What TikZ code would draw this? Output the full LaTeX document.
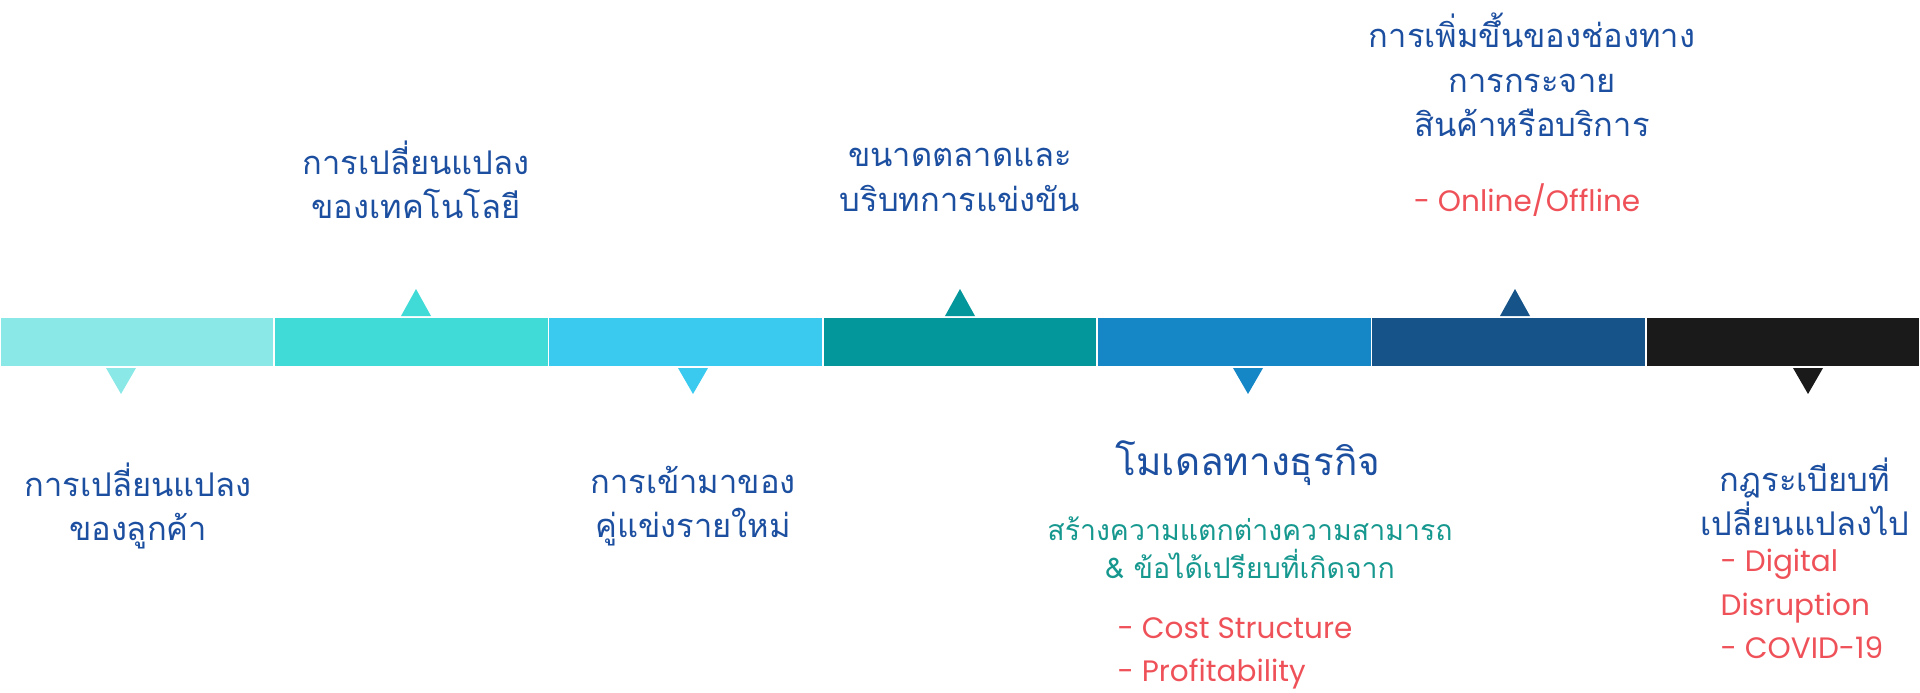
\documentclass[tikz,border=0pt]{standalone}
\usepackage{fontspec}
\usepackage{xcolor}
\usepackage{tikz}
\newfontfamily\thaifont[Script=Thai]{Loma}
\newfontfamily\latinfont{Poppins}
\definecolor{segA}{HTML}{8AE9E7}
\definecolor{segB}{HTML}{40DAD7}
\definecolor{segC}{HTML}{3AC9EF}
\definecolor{segD}{HTML}{03979B}
\definecolor{segE}{HTML}{1587C7}
\definecolor{segF}{HTML}{155389}
\definecolor{segG}{HTML}{1A1A1A}
\definecolor{titleblue}{HTML}{1D4FA0}
\definecolor{subteal}{HTML}{16988F}
\definecolor{notered}{HTML}{EF5159}

\begin{document}
\begin{tikzpicture}[bar piece/.style={rectangle, minimum width=2.742857cm, minimum height=0.5cm, inner sep=0pt, draw=white, line width=0.5pt},
	head/.style={font=\thaifont\fontsize{9.3}{12.6}\selectfont, text=titleblue, align=center, inner sep=0pt},
	sub/.style={font=\thaifont\fontsize{8.1}{10.8}\selectfont, text=subteal, align=center, inner sep=0pt},
	note/.style={font=\latinfont\fontsize{8.4}{12.3}\selectfont, text=notered, align=left, inner sep=0pt}]
	\useasboundingbox (0,0) rectangle (19.2,6.92);
	
	% Bar
	\foreach \c [count=\i] in {segA,segB,segC,segD,segE,segF,segG}
	\node[bar piece, fill=\c] (b\i) at ({(\i-0.5)*2.742857},3.5) {};
	
	% Pointers
	\foreach \x/\c in {4.16/segB, 9.60/segD, 15.15/segF}
	\fill[\c] (\x-0.15,3.76) -- (\x+0.15,3.76) -- (\x,4.03) -- cycle;
	\foreach \x/\c in {1.21/segA, 6.93/segC, 12.48/segE, 18.08/segG}
	\fill[\c] (\x-0.15,3.24) -- (\x+0.15,3.24) -- (\x,2.98) -- cycle;
	
	% Nodes
	\node[head] (h1) at (1.38,1.86) {การเปลี่ยนแปลง\\ของลูกค้า};
	\node[head] (h2) at (4.16,5.12) {การเปลี่ยนแปลง\\ของเทคโนโลยี};
	\node[head] (h3) at (6.93,1.86) {การเข้ามาของ\\คู่แข่งรายใหม่};
	\node[head] (h4) at (9.60,5.12) {ขนาดตลาดและ\\บริบทการแข่งขัน};
	\node[head, font=\thaifont\fontsize{11}{13}\selectfont] (h5) at (12.48,2.29) {โมเดลทางธุรกิจ};
	\node[sub] (t5) at (12.50,1.44) {สร้างความแตกต่างความสามารถ\\\& ข้อได้เปรียบที่เกิดจาก};
	\node[note, anchor=west] (n5) at (11.17,0.39) {- Cost Structure\\- Profitability};
	\node[head] (h6) at (15.32,6.17) {การเพิ่มขึ้นของช่องทาง\\การกระจาย\\สินค้าหรือบริการ};
	\node[note] (n6) at (15.27,4.92) {- Online/Offline};
	\node[head] (h7) at (18.05,1.95) {กฎระเบียบที่\\เปลี่ยนแปลงไป};
	\node[note, anchor=west] (n7) at (17.20,0.88) {- Digital\\Disruption\\- COVID-19};
	
\end{tikzpicture}
\end{document}
